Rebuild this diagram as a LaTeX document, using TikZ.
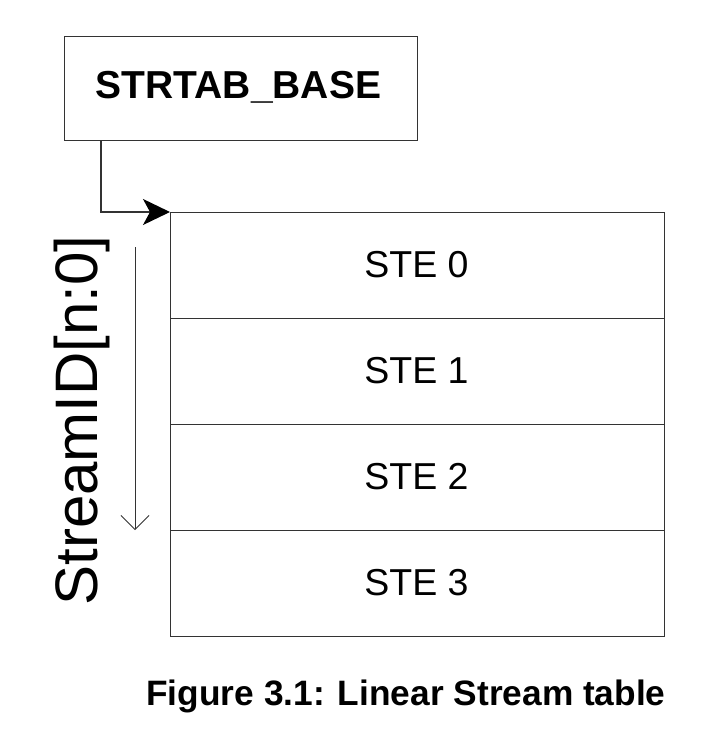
\documentclass[tikz,border=0pt]{standalone}
\usepackage{fontspec}
\setmainfont{Liberation Sans}
\usetikzlibrary{arrows.meta}
\begin{document}
\begin{tikzpicture}[x=1pt,y=-1pt,
  boxline/.style={draw=black!80,line width=1.2pt},
  stetext/.style={font=\fontsize{37.5}{37.5}\selectfont,anchor=base,inner sep=0pt}]
\useasboundingbox (0,0) rectangle (718,754);
% top box
\node[boxline,minimum width=353pt,minimum height=104pt,inner sep=0pt,anchor=north west] (base) at (64,36) {};
\node[anchor=base,inner sep=0pt,font=\bfseries\fontsize{39}{39}\selectfont] (basetxt) at (238.5,99) {STRTAB\_BASE};
% table rows
\foreach \i/\y in {0/212,1/318,2/424,3/530}{
  \node[boxline,minimum width=494pt,minimum height=106pt,inner sep=0pt,anchor=north west] (ste\i) at (170,\y) {};
  \node[stetext] (ste\i txt) at (416.5,\y+65) {STE \i};
}
% connector
\coordinate (bend) at (101,212);
\draw[line width=1.2pt,draw=black!80,-{Stealth[length=27pt,width=26pt,inset=7pt,black]}] (base.south -| bend) -- (bend) -- (ste0.north west);
% index arrow
\coordinate (idxtop) at (135,247);
\coordinate (idxbot) at (135,530);
\draw[line width=0.8pt,draw=black!80,-{Straight Barb[length=14pt,width=28pt,line width=0.8pt]}] (idxtop) -- (idxbot);
% rotated label
\node[rotate=90,anchor=base,inner sep=0pt,font=\fontsize{60}{60}\selectfont] (sid) at (97,420.5) {StreamID[n:0]};
% caption
\node[anchor=base,inner sep=0pt,font=\bfseries\fontsize{35.3}{35.3}\selectfont] (cap) at (406,705) {Figure 3.1: Linear Stream table};
\end{tikzpicture}
\end{document}
